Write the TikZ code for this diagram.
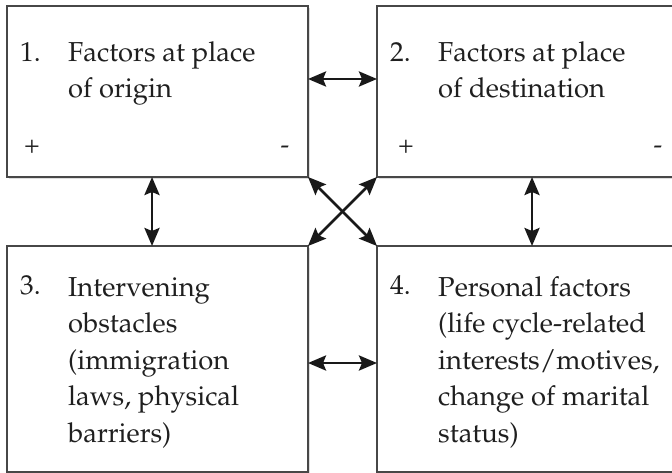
\documentclass[tikz,border=0pt]{standalone}
\usepackage[T1]{fontenc}
\usepackage{mathpazo}
\usetikzlibrary{arrows.meta,shadows}
\begin{document}
\begin{tikzpicture}[x=1bp,y=-1bp,
  box/.style={draw=black!72, line width=1.4bp, fill=white, rectangle, inner sep=0pt, outer sep=0pt, anchor=north west,
    drop shadow={shadow xshift=1.5bp, shadow yshift=-1.8bp, opacity=0.22, fill=black!60}},
  txt/.style={anchor=base west, inner sep=0pt, align=left, text=black!88, font=\fontsize{27.5}{36.6}\selectfont},
  pm/.style={inner sep=0pt, text=black!88, font=\fontsize{26}{30}\selectfont},
  arr/.style={line width=2.8bp, draw=black!90, {Stealth[length=18bp,width=15bp,inset=3bp]}-{Stealth[length=18bp,width=15bp,inset=3bp]}}
]
\useasboundingbox (0,0) rectangle (672,473);
\clip (0,0) rectangle (672,473);
% boxes
\node[box, minimum width=301bp, minimum height=171bp] (b1) at (7,6) {};
\node[box, minimum width=310bp, minimum height=171bp] (b2) at (377,6) {};
\node[box, minimum width=301bp, minimum height=226bp] (b3) at (7,246) {};
\node[box, minimum width=310bp, minimum height=226bp] (b4) at (377,246) {};
% texts (base anchor = baseline of the last line)
\node[txt] (n1) at (20,62) {1.};
\node[txt] (t1) at (68,98) {Factors at place\\of origin};
\node[pm] (p1) at (32,147) {+};
\node[pm] (m1) at (285,150) {-};
\node[txt] (n2) at (390,62) {2.};
\node[txt] (t2) at (438,98) {Factors at place\\of destination};
\node[pm] (p2) at (406,147) {+};
\node[pm] (m2) at (658,150) {-};
\node[txt] (n3) at (20,295) {3.};
\node[txt] (t3) at (68,442) {Intervening\\obstacles\\(immigration\\laws, physical\\barriers)};
\node[txt] (n4) at (390,295) {4.};
\node[txt] (t4) at (438,442) {Personal factors\\(life cycle-related\\interests/motives,\\change of marital\\status)};
% arrows
\draw[arr] ([yshift=-73bp]b1.north east) -- ([yshift=-73bp]b2.north west);
\draw[arr] ([yshift=-117bp]b3.north east) -- ([yshift=-117bp]b4.north west);
\draw[arr] ([xshift=145bp]b1.south west) -- ([xshift=145bp]b3.north west);
\draw[arr] ([xshift=155bp]b2.south west) -- ([xshift=155bp]b4.north west);
\draw[arr] (b1.south east) -- (b4.north west);
\draw[arr] (b2.south west) -- (b3.north east);
\end{tikzpicture}
\end{document}
